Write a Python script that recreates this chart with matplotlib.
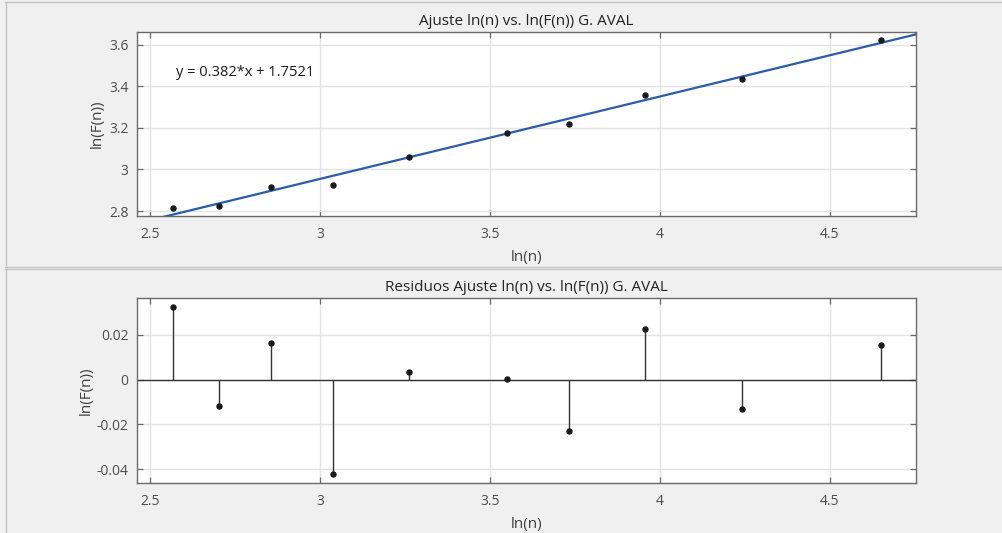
import numpy as np
import matplotlib
matplotlib.use("Agg")
import matplotlib.pyplot as plt
from matplotlib.lines import Line2D

# ln(n) and ln(F(n)) values
ln_n = [2.567, 2.702, 2.857, 3.038, 3.262, 3.551, 3.733, 3.956, 4.242, 4.650]
ln_F = [2.816, 2.824, 2.914, 2.927, 3.062, 3.173, 3.221, 3.356, 3.435, 3.624]
# residuals of the linear fit
residuals = [0.0324, -0.0117, 0.0164, -0.0423, 0.0032, 0.0001,
             -0.0230, 0.0225, -0.0132, 0.0155]

x_ticks = [2.5, 3, 3.5, 4, 4.5]
x_ticklabels = ["2.5", "3", "3.5", "4", "4.5"]
top_yticks = [2.8, 3.0, 3.2, 3.4, 3.6]
top_yticklabels = ["2.8", "3", "3.2", "3.4", "3.6"]
bot_yticks = [-0.04, -0.02, 0.0, 0.02]
bot_yticklabels = ["-0.04", "-0.02", "0", "0.02"]

fit_label = "y = 0.382*x + 1.7521"
title_top = "Ajuste ln(n) vs. ln(F(n)) G. AVAL"
title_bot = "Residuos Ajuste ln(n) vs. ln(F(n)) G. AVAL"

plt.rcParams["font.family"] = ["Open Sans", "DejaVu Sans"]

BG = "#f0f0f0"
TICK_C = "#4d4d4d"
FRAME_C = "#6a6a6a"
GRID_C = "#e3e3e3"

fig = plt.figure(figsize=(10.02, 5.33), dpi=100, facecolor=BG)

# panel borders
for xs, ys in [([0.005, 1.0], [0.9965, 0.9965]),
               ([0.0055, 0.0055], [0.4995, 0.9965]),
               ([0.005, 1.0], [0.4990, 0.4990]),
               ([0.005, 1.0], [0.4950, 0.4950]),
               ([0.0062, 0.0062], [0.0, 0.4950])]:
    fig.add_artist(Line2D(xs, ys, transform=fig.transFigure, color="#c4c4c4", lw=1.0))

ax1 = fig.add_axes([0.1367, 0.5947, 0.7775, 0.3452])
ax2 = fig.add_axes([0.1367, 0.0938, 0.7775, 0.3471])

xlim = (2.462, 4.753)


def style(ax):
    ax.set_facecolor("white")
    ax.grid(True, color=GRID_C, lw=1.0)
    ax.set_axisbelow(True)
    for s in ax.spines.values():
        s.set_color(FRAME_C)
        s.set_linewidth(1.0)
    ax.tick_params(direction="in", top=True, right=True, length=4.5, width=0.9,
                   color=FRAME_C, labelcolor=TICK_C, labelsize=10)
    ax.tick_params(axis="x", pad=8)
    ax.tick_params(axis="y", pad=6)
    ax.set_xlim(*xlim)
    ax.set_xticks(x_ticks)
    ax.set_xticklabels(x_ticklabels)


# top: data and linear fit
style(ax1)
coef = np.polyfit(ln_n, ln_F, 1)
xx = np.array(xlim)
ax1.plot(xx, np.polyval(coef, xx), color="#2a5caa", lw=1.6, zorder=3)
ax1.plot(ln_n, ln_F, "o", color="#1a1a1a", ms=3.6, zorder=4)
ax1.set_ylim(2.776, 3.661)
ax1.set_yticks(top_yticks)
ax1.set_yticklabels(top_yticklabels)
ax1.text(2.578, 3.468, fit_label, fontsize=10.5, color="#1a1a1a", va="center")
ax1.set_title(title_top, fontsize=11, color="#222222", pad=5)
ax1.set_xlabel("ln(n)", fontsize=11, color="#404040", labelpad=6)
ax1.set_ylabel("ln(F(n))", fontsize=11, color="#404040", labelpad=3)

# bottom: residuals
style(ax2)
ax2.axhline(0, color="#333333", lw=1.0, zorder=2)
ax2.vlines(ln_n, 0, residuals, color="#333333", lw=1.0, zorder=3)
ax2.plot(ln_n, residuals, "o", color="#1a1a1a", ms=3.6, zorder=4)
ax2.set_ylim(-0.0462, 0.0364)
ax2.set_yticks(bot_yticks)
ax2.set_yticklabels(bot_yticklabels)
ax2.set_title(title_bot, fontsize=11, color="#222222", pad=5)
ax2.set_xlabel("ln(n)", fontsize=11, color="#404040", labelpad=6)
ax2.set_ylabel("ln(F(n))", fontsize=11, color="#404040", labelpad=2)

fig.savefig("out.png", dpi=100, facecolor=BG)
